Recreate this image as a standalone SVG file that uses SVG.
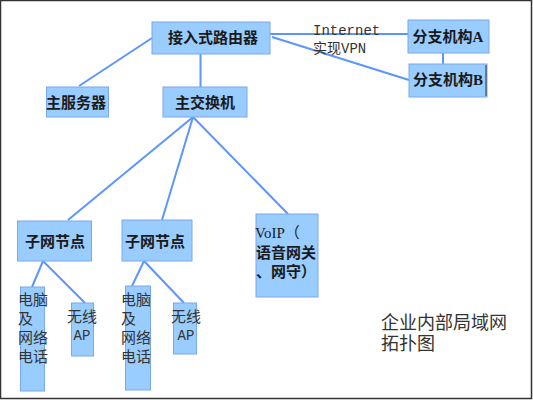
<svg xmlns="http://www.w3.org/2000/svg" width="533" height="400" viewBox="0 0 533 400">
<style>
.box{fill:#99ccff;stroke:#7aa8f0;stroke-width:1}
.lbl{font-family:"Liberation Serif","Noto Sans CJK SC",serif;font-size:15px;font-weight:bold;fill:#1a1a1a}
.c{text-anchor:middle}
.reg{font-family:"Liberation Mono","Noto Sans CJK SC",monospace;font-size:14px;fill:#333}
.r15{font-size:15px}
.r18{font-size:18px}
.conn line{stroke:#5b95ff;stroke-width:2}
</style>
<rect x="0.5" y="0.5" width="531" height="398" fill="#fff" stroke="#333" stroke-width="1.5"/>
<g class="conn">
<line x1="152" y1="38" x2="79" y2="86"/>
<line x1="200.5" y1="54" x2="200.5" y2="87"/>
<line x1="270" y1="34" x2="408" y2="34"/>
<line x1="272" y1="37" x2="409" y2="80"/>
<line x1="443" y1="53" x2="443" y2="64"/>
<line x1="193" y1="117" x2="68" y2="220"/>
<line x1="193" y1="117" x2="162" y2="220"/>
<line x1="193" y1="117" x2="288" y2="214"/>
<line x1="43" y1="261" x2="32" y2="287"/>
<line x1="43" y1="261" x2="85" y2="303"/>
<line x1="144" y1="261" x2="132" y2="286"/>
<line x1="144" y1="261" x2="184" y2="303"/>
</g>
<g id="router"><rect class="box" x="152" y="22" width="118" height="32"/><text class="lbl c" x="213" y="43">接入式路由器</text></g>
<g id="server"><rect class="box" x="46.5" y="87" width="62" height="30"/><text class="lbl c" x="76" y="108">主服务器</text></g>
<g id="switch"><rect class="box" x="163" y="87" width="84" height="30"/><text class="lbl c" x="205" y="108">主交换机</text></g>
<g id="branchA"><rect class="box" x="408" y="20" width="81" height="33"/><text class="lbl c" x="448" y="42">分支机构A</text></g>
<g id="branchB"><rect class="box" x="409" y="64" width="78" height="33"/><line x1="486" y1="65" x2="486" y2="96" stroke="#333" stroke-width="1"/><text class="lbl c" x="448" y="85">分支机构B</text></g>
<g id="subnet1"><rect class="box" x="17.5" y="221" width="74" height="40"/><text class="lbl c" x="55" y="247">子网节点</text></g>
<g id="subnet2"><rect class="box" x="122" y="220" width="70" height="41"/><text class="lbl c" x="155" y="247">子网节点</text></g>
<g id="voip"><rect class="box" x="256" y="214" width="62" height="83"/>
<text class="lbl" x="255" y="238" style="font-weight:normal">VoIP（</text><text class="lbl" x="256" y="258">语音网关</text><text class="lbl" x="256" y="277">、网守）</text></g>
<g id="pc1"><rect class="box" x="20.5" y="287" width="24" height="104"/>
<text class="reg r15" x="18" y="305">电脑</text><text class="reg r15" x="18" y="324">及</text><text class="reg r15" x="18" y="343">网络</text><text class="reg r15" x="18" y="362">电话</text></g>
<g id="ap1"><rect class="box" x="71.5" y="303" width="22" height="53"/>
<text class="reg r15 c" x="82" y="322">无线</text><text class="reg c" x="82" y="340">AP</text></g>
<g id="pc2"><rect class="box" x="125.5" y="286" width="25" height="104"/>
<text class="reg r15" x="121" y="305">电脑</text><text class="reg r15" x="121" y="324">及</text><text class="reg r15" x="121" y="343">网络</text><text class="reg r15" x="121" y="362">电话</text></g>
<g id="ap2"><rect class="box" x="173.5" y="303" width="23" height="51"/>
<text class="reg r15 c" x="186" y="322">无线</text><text class="reg c" x="186" y="340">AP</text></g>
<text class="reg" x="313" y="35">Internet</text>
<text class="reg" x="313" y="53">实现VPN</text>
<text class="reg r18" x="381" y="329">企业内部局域网</text>
<text class="reg r18" x="381" y="350">拓扑图</text>
</svg>
